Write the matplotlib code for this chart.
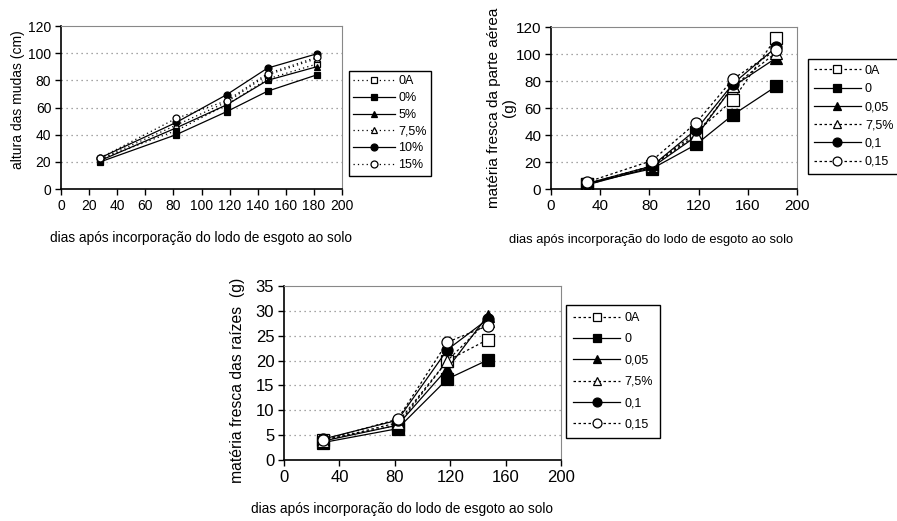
import matplotlib
matplotlib.use('Agg')
import matplotlib.pyplot as plt

plt.rcParams['font.family'] = ['Liberation Sans', 'DejaVu Sans']

# altura das mudas (cm)
x_alt = [28, 82, 118, 147, 182]
alt_0A = [22, 43, 62, 81, 92]
alt_0 = [20, 40, 57, 72, 84]
alt_5 = [21, 45, 62, 80, 90]
alt_75 = [22, 47, 64, 84, 96]
alt_10 = [23, 49, 69.5, 89, 99.5]
alt_15 = [23, 52, 65, 85, 97]
labels_alt = ['0A', '0%', '5%', '7,5%', '10%', '15%']

# materia fresca da parte aerea (g)
x_pa = [29, 82, 118, 148, 183]
pa_0A = [4, 17, 42, 66, 112]
pa_0 = [4, 15, 33, 55, 76]
pa_005 = [3, 16, 39, 76, 97]
pa_75 = [3, 17, 40, 76, 101]
pa_01 = [4, 17, 44, 78, 105]
pa_015 = [5, 21, 49, 81.5, 103]

# materia fresca das raizes (g)
x_rz = [28, 82, 118, 147]
rz_0A = [4, 7, 20, 24.2]
rz_0 = [3.5, 6.3, 16.3, 20.1]
rz_005 = [3.8, 7, 18.4, 29]
rz_75 = [3.8, 7.5, 20, 28]
rz_01 = [4.2, 8, 22.2, 28.3]
rz_015 = [4, 8.2, 23.7, 27]
labels_g = ['0A', '0', '0,05', '7,5%', '0,1', '0,15']

xlab = 'dias após incorporação do lodo de esgoto ao solo'
W, H = 897, 521

fig = plt.figure(figsize=(W / 100, H / 100), dpi=100)


def px_axes(l, t, r, b):
    return fig.add_axes([l / W, 1 - b / H, (r - l) / W, (b - t) / H])


def style(ax, ymax, ystep, xticks, fs):
    ax.set_xlim(0, 200)
    ax.set_ylim(0, ymax)
    ax.set_xticks(xticks)
    ax.set_yticks(range(0, ymax + 1, ystep))
    ax.tick_params(direction='out', length=4, width=1, labelsize=fs, pad=3)
    for s in ['top', 'right']:
        ax.spines[s].set_color('#888888')
    for s in ['left', 'bottom']:
        ax.spines[s].set_linewidth(1.2)
    for y in range(ystep, ymax, ystep):
        ax.axhline(y, color='#888888', lw=0.9, ls=(0, (1, 3)), zorder=0)


def draw(ax, x, series, labels, ms, dots):
    styles = [('s', 'white', dots), ('s', 'black', '-'), ('^', 'black', '-'),
              ('^', 'white', dots), ('o', 'black', '-'), ('o', 'white', dots)]
    hs = []
    for y, lab, (m, fc, ls) in zip(series, labels, styles):
        h, = ax.plot(x, y, color='black', lw=0.9, ls=ls, marker=m, ms=ms,
                     mfc=fc, mec='black', mew=0.9, label=lab)
        hs.append(h)
    return hs


def legend(h, x, y, spacing, pad, hl, ms_scale):
    fig.legend(handles=h, loc='upper left', bbox_to_anchor=(x / W, 1 - y / H),
               fontsize=9, frameon=True, fancybox=False, edgecolor='black',
               handlelength=hl, handletextpad=0.3, labelspacing=spacing,
               borderpad=pad, borderaxespad=0, markerscale=ms_scale,
               framealpha=1)


# panel 1
ax1 = px_axes(61, 26, 342, 189)
style(ax1, 120, 20, range(0, 201, 20), 10)
h = draw(ax1, x_alt, [alt_0A, alt_0, alt_5, alt_75, alt_10, alt_15],
         labels_alt, 5, (0, (1, 2.5)))
ax1.set_ylabel('altura das mudas (cm)', fontsize=10, labelpad=2)
ax1.yaxis.label.set_y(0.55)
ax1.set_xlabel(xlab, fontsize=9.8, labelpad=13)
legend(h, 349, 71, 0.38, 0.35, 3.3, 1)

# panel 2
ax2 = px_axes(551, 27, 797, 189)
style(ax2, 120, 20, range(0, 201, 40), 11)
h = draw(ax2, x_pa, [pa_0A, pa_0, pa_005, pa_75, pa_01, pa_015],
         labels_g, 8, (0, (2, 2)))
ax2.set_ylabel('matéria fresca da parte aérea\n(g)', fontsize=11,
               labelpad=0, linespacing=1.1)
ax2.set_xlabel(xlab, fontsize=9.3, labelpad=15)
ax2.xaxis.label.set_x(0.405)
legend(h, 808, 59, 0.5, 0.45, 3.8, 0.8)

# panel 3
ax3 = px_axes(284, 286, 561, 460)
style(ax3, 35, 5, range(0, 201, 40), 12)
h = draw(ax3, x_rz, [rz_0A, rz_0, rz_005, rz_75, rz_01, rz_015],
         labels_g, 8, (0, (2, 2)))
ax3.set_ylabel('matéria fresca das raízes  (g)', fontsize=11.3, labelpad=8)
ax3.yaxis.label.set_y(0.46)
ax3.set_xlabel(xlab, fontsize=9.8, labelpad=12.5)
ax3.xaxis.label.set_x(0.426)
legend(h, 566, 305, 0.75, 0.55, 3.8, 0.8)

fig.savefig('out.png', dpi=100)
